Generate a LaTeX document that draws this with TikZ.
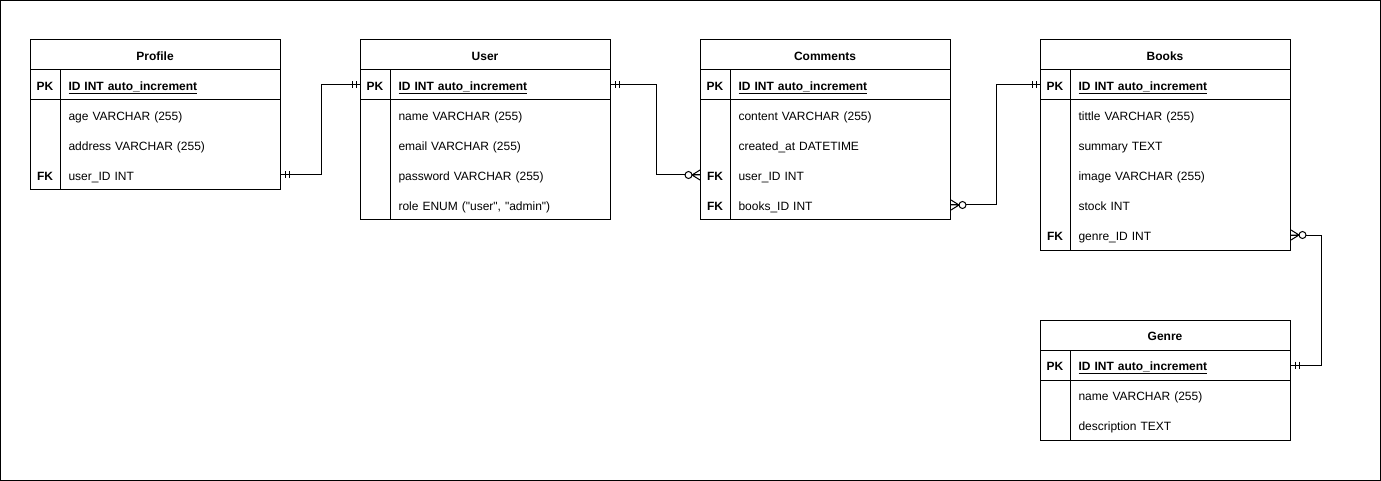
\documentclass[tikz,border=0pt]{standalone}
\usepackage{fontspec}
\setmainfont{Liberation Sans}
\usetikzlibrary{calc}
\newcommand{\ermandone}[2]{%
  \draw ($(#1)+(#2*4,-3.5)$) -- ++(0,7) ($(#1)+(#2*8,-3.5)$) -- ++(0,7);}
\newcommand{\erzeromany}[2]{%
  \draw ($(#1)+(#2*8,0)$) -- ($(#1)+(0,-5)$) ($(#1)+(#2*8,0)$) -- (#1)
        ($(#1)+(#2*8,0)$) -- ($(#1)+(0,5)$);
  \draw[fill=white] ($(#1)+(#2*11.5,0)$) circle[radius=3.5];}
\newcommand{\erframe}[3]{% x, top, bottom
  \draw (#1,#2) rectangle (#1+250,#3);
  \draw (#1,#2+60) -- (#1+250,#2+60);
  \draw (#1+30,#2+30) -- (#1+30,#3);}
\newcommand{\erq}{\textquotedbl}
\begin{document}
\begin{tikzpicture}[x=1pt,y=-1pt,line width=1pt,
  every node/.style={font=\fontsize{12}{14}\selectfont,text height=11.6pt,text depth=0pt},
  hdr/.style={draw,minimum width=250pt,minimum height=30pt,inner sep=0pt,font=\fontsize{12}{14}\selectfont\bfseries},
  field/.style={anchor=west,text width=234pt,inner xsep=8pt,inner ysep=0pt,minimum height=30pt,align=left,
    execute at begin node={\hspace*{30pt}}},
  pkfield/.style={field,font=\fontsize{12}{14}\selectfont\bfseries},
  keycell/.style={inner sep=0pt,font=\fontsize{12}{14}\selectfont\bfseries}]
\useasboundingbox (0,0) rectangle (1381,481);
\draw (0.5,0.5) rectangle (1380.5,480.5);

% Profile
\erframe{30}{40}{190}
\node[hdr] (profile) at (155,55) {Profile};
\node[keycell] (profile-pkk) at (45,85) {PK};
\node[pkfield] (profile-pk) at (30,85) {\underline{ID INT auto\_increment}};
\node[field] (profile-age) at (30,115) {age VARCHAR (255)};
\node[field] (profile-address) at (30,145) {address VARCHAR (255)};
\node[keycell] (profile-fkk) at (45,175) {FK};
\node[field] (profile-user) at (30,175) {user\_ID INT};

% User
\erframe{360}{40}{220}
\node[hdr] (user) at (485,55) {User};
\node[keycell] (user-pkk) at (375,85) {PK};
\node[pkfield] (user-pk) at (360,85) {\underline{ID INT auto\_increment}};
\node[field] (user-name) at (360,115) {name VARCHAR (255)};
\node[field] (user-email) at (360,145) {email VARCHAR (255)};
\node[field] (user-password) at (360,175) {password VARCHAR (255)};
\node[field] (user-role) at (360,205) {role ENUM (\erq user\erq, \erq admin\erq)};

% Comments
\erframe{700}{40}{220}
\node[hdr] (comments) at (825,55) {Comments};
\node[keycell] (comments-pkk) at (715,85) {PK};
\node[pkfield] (comments-pk) at (700,85) {\underline{ID INT auto\_increment}};
\node[field] (comments-content) at (700,115) {content VARCHAR (255)};
\node[field] (comments-created) at (700,145) {created\_at DATETIME};
\node[keycell] (comments-fk1) at (715,175) {FK};
\node[field] (comments-user) at (700,175) {user\_ID INT};
\node[keycell] (comments-fk2) at (715,205) {FK};
\node[field] (comments-books) at (700,205) {books\_ID INT};

% Books
\erframe{1040}{40}{250}
\node[hdr] (books) at (1165,55) {Books};
\node[keycell] (books-pkk) at (1055,85) {PK};
\node[pkfield] (books-pk) at (1040,85) {\underline{ID INT auto\_increment}};
\node[field] (books-title) at (1040,115) {tittle VARCHAR (255)};
\node[field] (books-summary) at (1040,145) {summary TEXT};
\node[field] (books-image) at (1040,175) {image VARCHAR (255)};
\node[field] (books-stock) at (1040,205) {stock INT};
\node[keycell] (books-fkk) at (1055,235) {FK};
\node[field] (books-genre) at (1040,235) {genre\_ID INT};

% Genre
\erframe{1040}{320}{440}
\node[hdr] (genre) at (1165,335) {Genre};
\node[keycell] (genre-pkk) at (1055,365) {PK};
\node[pkfield] (genre-pk) at (1040,365) {\underline{ID INT auto\_increment}};
\node[field] (genre-name) at (1040,395) {name VARCHAR (255)};
\node[field] (genre-desc) at (1040,425) {description TEXT};

% Connectors
\draw (profile-user.east) -- ++(40,0) |- (user-pk.west);
\ermandone{profile-user.east}{1}
\ermandone{user-pk.west}{-1}

\draw (user-pk.east) -- ++(45,0) |- (comments-user.west);
\ermandone{user-pk.east}{1}
\erzeromany{comments-user.west}{-1}

\draw (comments-books.east) -- ++(45,0) |- (books-pk.west);
\erzeromany{comments-books.east}{1}
\ermandone{books-pk.west}{-1}

\draw (books-genre.east) -- ++(30,0) |- (genre-pk.east);
\erzeromany{books-genre.east}{1}
\ermandone{genre-pk.east}{1}
\end{tikzpicture}
\end{document}
